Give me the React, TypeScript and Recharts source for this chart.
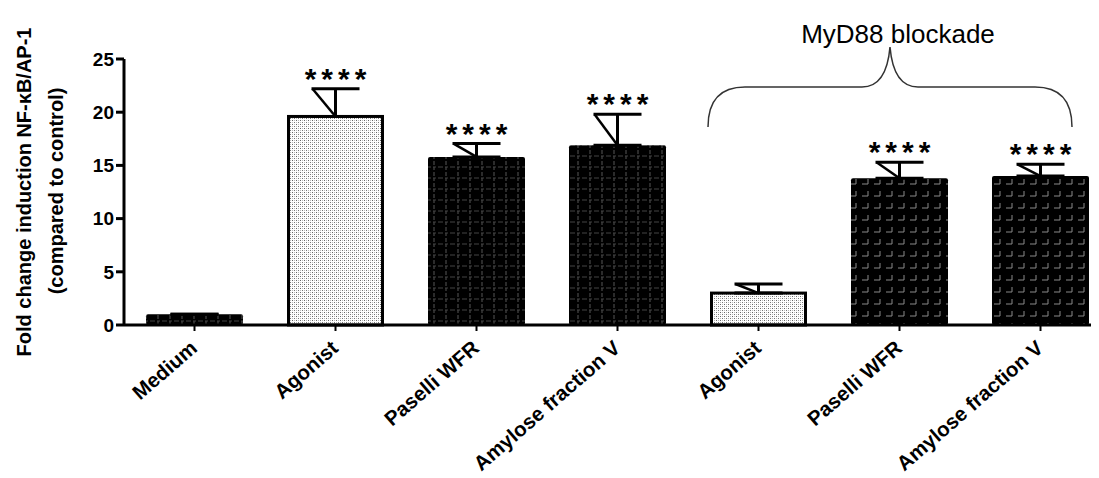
import React from "react";
import { BarChart, Bar, XAxis, YAxis, ErrorBar } from "recharts";

// group labels, in plotting order (the last three are under MyD88 blockade)
const groupLabels = [
    "Medium",
    "Agonist",
    "Paselli WFR",
    "Amylose fraction V",
    "Agonist",
    "Paselli WFR",
    "Amylose fraction V",
];
const foldChange = [1.0, 19.6, 15.8, 16.9, 3.0, 13.8, 14.0];
const sem = [0, 2.6, 1.25, 2.9, 0.85, 1.5, 1.1];
const significance = ["", "****", "****", "****", "", "****", "****"];
const yTicks = [0, 5, 10, 15, 20, 25];

// fill pattern per bar
const barPatterns = ["gridDark", "stipple", "gridDark", "gridDark", "stipple", "gridBlock", "gridBlock"];

const font = "'Liberation Sans', Arial, sans-serif";

const data = groupLabels.map((name, i) => ({
    id: `g${i}`,
    idx: i,
    name,
    value: foldChange[i],
    err: [0, sem[i]],
    stars: significance[i],
}));

const BarShape = (props: any) => {
    const { x, y, width, height, payload } = props;
    const i = payload.idx;
    const pattern = barPatterns[i];
    const outlined = pattern === "stipple";
    const pxPerUnit = payload.value > 0 ? height / payload.value : 0;
    const errTop = y - sem[i] * pxPerUnit;
    const cx = x + width / 2;
    return (
        <g>
            <rect
                x={outlined ? x + 1.5 : x}
                y={y}
                width={outlined ? width - 3 : width}
                height={height}
                fill={`url(#${pattern})`}
                stroke={outlined ? "#000" : "none"}
                strokeWidth={3}
                rx={outlined ? 0 : 2}
            />
            {sem[i] > 0 && (
                <line x1={cx - 23} y1={errTop} x2={cx} y2={y} stroke="#000" strokeWidth={2.5} />
            )}
            {payload.stars && (
                <text
                    x={cx + 2.5}
                    y={errTop}
                    textAnchor="middle"
                    fontSize={30}
                    fontWeight="bold"
                    letterSpacing={5}
                    fontFamily={font}
                    fill="#000"
                >
                    {payload.stars}
                </text>
            )}
        </g>
    );
};

const XTick = (props: any) => {
    const { x, y, index } = props;
    const ax = x + 4;
    const ay = y + 17;
    return (
        <text
            x={ax}
            y={ay}
            transform={`rotate(-41 ${ax} ${ay})`}
            textAnchor="end"
            fontSize={20.5}
            fontWeight="bold"
            fontFamily={font}
            fill="#000"
        >
            {groupLabels[index]}
        </text>
    );
};

const YLabel = () => (
    <g fontFamily={font} fontWeight="bold" fontSize={20} fill="#000" textAnchor="middle">
        <text x={23} y={184} transform="rotate(-90 23 184)">
            Fold change induction NF-κB/AP-1
        </text>
        <text x={55} y={183} transform="rotate(-90 55 183)">
            (compared to control)
        </text>
    </g>
);

const App: React.FC = () => (
    <div style={{ position: "relative", width: 1091, height: 470, overflow: "hidden", background: "#fff" }}>
        <BarChart
            width={1110}
            height={470}
            data={data}
            margin={{ top: 51, right: 7, left: 0, bottom: 0 }}
            barSize={97}
        >
            <XAxis
                dataKey="id"
                interval={0}
                height={153}
                tick={<XTick />}
                tickSize={6}
                axisLine={{ stroke: "#000", strokeWidth: 3 }}
                tickLine={{ stroke: "#000", strokeWidth: 2 }}
            />
            <YAxis
                width={116}
                domain={[0, 25]}
                ticks={yTicks}
                interval={0}
                tickSize={8}
                axisLine={{ stroke: "#000", strokeWidth: 3 }}
                tickLine={{ stroke: "#000", strokeWidth: 3 }}
                tick={{ fontSize: 19, fontWeight: "bold", fill: "#000", fontFamily: font }}
                label={{ content: () => <YLabel /> }}
            />
            <Bar dataKey="value" shape={<BarShape />} isAnimationActive={false}>
                <ErrorBar
                    dataKey="err"
                    direction="y"
                    width={24}
                    strokeWidth={3}
                    stroke="#000"
                    isAnimationActive={false}
                />
            </Bar>
        </BarChart>
        <svg
            width={1091}
            height={470}
            style={{ position: "absolute", left: 0, top: 0, pointerEvents: "none" }}
        >
            <defs>
                <pattern id="stipple" width={4} height={4} patternUnits="userSpaceOnUse">
                    <rect width={4} height={4} fill="#fff" />
                    <rect x={0} y={0} width={1} height={1} fill="#666" />
                    <rect x={2} y={2} width={1} height={1} fill="#777" />
                    <rect x={2} y={0} width={1} height={1} fill="#bbb" />
                    <rect x={0} y={2} width={1} height={1} fill="#bbb" />
                </pattern>
                <pattern id="gridDark" width={12} height={11} patternUnits="userSpaceOnUse">
                    <rect width={12} height={11} fill="#000" />
                    <line x1={6} y1={0} x2={6} y2={11} stroke="#555" strokeWidth={1} strokeDasharray="3 2" />
                    <line x1={0} y1={5} x2={12} y2={5} stroke="#444" strokeWidth={1} strokeDasharray="3 2" />
                </pattern>
                <pattern id="gridBlock" width={12} height={12} patternUnits="userSpaceOnUse">
                    <rect width={12} height={12} fill="#000" />
                    <path d="M2,8 h6 M8,3 v5" stroke="#8a8a8a" strokeWidth={1} fill="none" />
                </pattern>
            </defs>
            <path
                d="M700,119 C700,92 712,79 737,79 L854,79 C872,79 880,62 882,39 C884,62 892,79 910,79 L1027,79 C1052,79 1064,92 1064,119"
                fill="none"
                stroke="#333"
                strokeWidth={1.5}
            />
            <text x={890} y={35} textAnchor="middle" fontSize={26} fontFamily={font} fill="#000">
                MyD88 blockade
            </text>
        </svg>
    </div>
);

export default App;
